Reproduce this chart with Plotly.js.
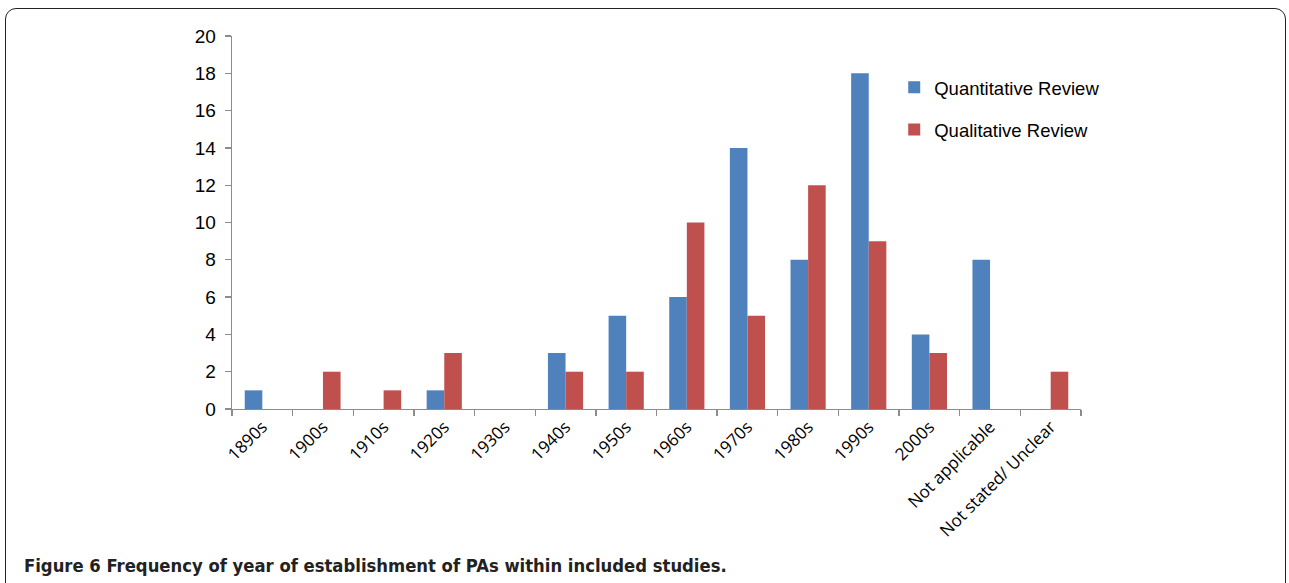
<!DOCTYPE html>
<html>
<head>
<meta charset="utf-8">
<script src="https://cdn.plot.ly/plotly-3.0.1.min.js"></script>
<style>
  html, body { margin: 0; padding: 0; background: #fff; }
  #wrap { position: relative; width: 1289px; height: 583px; overflow: hidden; }
  #frame { position: absolute; left: 5px; top: 8px; width: 1281px; height: 620px;
           border: 1.5px solid #222; border-radius: 11px; box-sizing: border-box; }
  #chart { position: absolute; left: 0; top: 0; width: 1289px; height: 583px; }
</style>
</head>
<body>
<div id="wrap">
  <div id="frame"></div>
  <div id="chart"></div>
</div>
<script>
const categories = ["1890s","1900s","1910s","1920s","1930s","1940s","1950s","1960s","1970s","1980s","1990s","2000s","Not applicable","Not stated/ Unclear"];
const quantitative = [1,0,0,1,0,3,5,6,14,8,18,4,8,0];
const qualitative  = [0,2,1,3,0,2,2,10,5,12,9,3,0,2];
const yTicks = [0,2,4,6,8,10,12,14,16,18,20];

const traces = [
  { type: "bar", name: "Quantitative Review", x: categories, y: quantitative,
    marker: { color: "#4F81BD", line: { width: 0 } }, legendgroup: "a" },
  { type: "bar", name: "Qualitative Review", x: categories, y: qualitative,
    marker: { color: "#C0504D", line: { width: 0 } }, legendgroup: "b" }
];

const layout = {
  width: 1289, height: 583,
  paper_bgcolor: "rgba(0,0,0,0)", plot_bgcolor: "rgba(0,0,0,0)",
  margin: { l: 232, r: 208, t: 36, b: 174 },
  barmode: "group", bargap: 0.42, bargroupgap: 0,
  showlegend: true,
  legend: { x: 0.78, xanchor: "left", y: 0.912, yanchor: "top",
            font: { family: "Liberation Sans, Arial, sans-serif", size: 18.5, color: "#000" },
            traceorder: "grouped", tracegroupgap: 15, itemwidth: 30,
            bgcolor: "rgba(0,0,0,0)" },
  xaxis: {
    type: "category", tickangle: -45,
    tickfont: { family: "Open Sans, sans-serif", size: 17, color: "#000" },
    showline: true, linecolor: "#8c8c8c", linewidth: 1.3,
    ticks: "outside", ticklen: 6, tickcolor: "#8c8c8c", tickwidth: 1.3,
    tickson: "boundaries", showgrid: false, zeroline: false,
    range: [-0.5, 13.5]
  },
  yaxis: {
    range: [0, 20], tickvals: yTicks, ticktext: yTicks.map(String),
    tickfont: { family: "Liberation Sans, Arial, sans-serif", size: 19, color: "#000" },
    showline: true, linecolor: "#8c8c8c", linewidth: 1.3,
    ticks: "outside", ticklen: 6, tickcolor: "#8c8c8c", tickwidth: 1.3,
    ticklabelstandoff: 5,
    showgrid: false, zeroline: false
  },
  annotations: [{
    xref: "paper", yref: "paper", x: -0.2474, y: -0.42, xanchor: "left", yanchor: "middle",
    showarrow: false, align: "left",
    text: "<b>Figure 6</b> Frequency of year of establishment of PAs within included studies.",
    font: { family: "DejaVu Sans Condensed, DejaVu Sans, sans-serif", size: 18.3, color: "#222", weight: 600 }
  }]
};

Plotly.newPlot("chart", traces, layout, { displayModeBar: false, staticPlot: true });
</script>
</body>
</html>
